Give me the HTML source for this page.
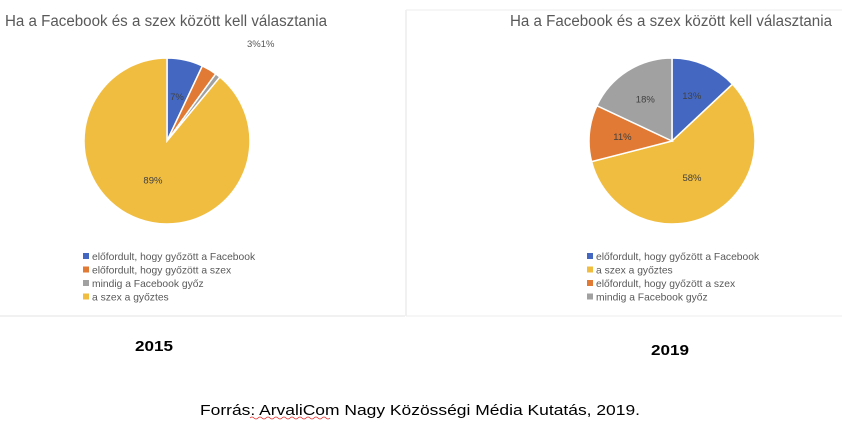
<!DOCTYPE html>
<html><head><meta charset="utf-8"><style>
html,body{margin:0;padding:0;background:#fff;width:842px;height:425px;overflow:hidden}
svg{display:block;font-family:"Liberation Sans",sans-serif}
</style></head><body>
<svg id="chart" width="842" height="425" viewBox="0 0 842 425">
  <line x1="0" y1="316" x2="405" y2="316" stroke="#e3e3e3" stroke-width="1"/>
  <line x1="406" y1="10" x2="406" y2="316" stroke="#e3e3e3" stroke-width="1"/>
  <line x1="406" y1="10" x2="842" y2="10" stroke="#eeeeee" stroke-width="1"/>
  <line x1="406" y1="316" x2="842" y2="316" stroke="#eeeeee" stroke-width="1"/>
  <text x="5" y="26" font-size="15.5" fill="#595959" textLength="322" lengthAdjust="spacingAndGlyphs">Ha a Facebook és a szex között kell választania</text>
  <text x="510" y="26" font-size="15.5" fill="#595959" textLength="322" lengthAdjust="spacingAndGlyphs">Ha a Facebook és a szex között kell választania</text>
  <g id="pie2015"></g>
  <g id="pie2019"></g>
  <g id="leg2015"></g>
  <g id="leg2019"></g>
  <text x="247" y="47" font-size="9.5" fill="#595959">3%1%</text>
  <text x="135" y="351" font-size="15" font-weight="bold" fill="#000" textLength="38" lengthAdjust="spacingAndGlyphs">2015</text>
  <text x="651" y="355" font-size="15" font-weight="bold" fill="#000" textLength="38" lengthAdjust="spacingAndGlyphs">2019</text>
  <text x="200" y="415" font-size="15" fill="#000" textLength="440" lengthAdjust="spacingAndGlyphs">Forrás: ArvaliCom Nagy Közösségi Média Kutatás, 2019.</text>
  <path d="M250 418 q2 -2 4 0 t4 0 t4 0 t4 0 t4 0 t4 0 t4 0 t4 0 t4 0 t4 0 t4 0 t4 0 t4 0 t4 0 t4 0 t4 0 t4 0 t4 0 t4 0 t4 0" fill="none" stroke="#e03030" stroke-width="0.8"/>
</svg>
<script>
const cats2015 = ["előfordult, hogy győzött a Facebook","előfordult, hogy győzött a szex","mindig a Facebook győz","a szex a győztes"];
const vals2015 = [7, 3, 1, 89];
const cats2019 = ["előfordult, hogy győzött a Facebook","a szex a győztes","előfordult, hogy győzött a szex","mindig a Facebook győz"];
const vals2019 = [13, 58, 11, 18];
const colorMap = {"előfordult, hogy győzött a Facebook":"#4468c2","előfordult, hogy győzött a szex":"#e07a35","mindig a Facebook győz":"#a1a1a1","a szex a győztes":"#f0bd41"};
const NS = "http://www.w3.org/2000/svg";
function drawPie(gid, cats, vals, cx, cy, r, showLabel, lblOffsets) {
  const g = document.getElementById(gid);
  const total = vals.reduce((a,b)=>a+b,0);
  let a0 = 0;
  vals.forEach((v,i)=>{
    const a1 = a0 + v/total*2*Math.PI;
    const x0 = cx + r*Math.sin(a0), y0 = cy - r*Math.cos(a0);
    const x1 = cx + r*Math.sin(a1), y1 = cy - r*Math.cos(a1);
    const large = (a1-a0) > Math.PI ? 1 : 0;
    const p = document.createElementNS(NS,"path");
    p.setAttribute("d",`M${cx} ${cy} L${x0} ${y0} A${r} ${r} 0 ${large} 1 ${x1} ${y1} Z`);
    p.setAttribute("fill",colorMap[cats[i]]);
    p.setAttribute("stroke","#fff");
    p.setAttribute("stroke-width","1.5");
    
    
    g.appendChild(p);
    if (showLabel[i]) {
      const am = (a0+a1)/2, rr = r*lblOffsets[i];
      const t = document.createElementNS(NS,"text");
      t.setAttribute("x", cx + rr*Math.sin(am));
      t.setAttribute("y", cy - rr*Math.cos(am) + 3.5);
      t.setAttribute("text-anchor","middle");
      t.setAttribute("font-size","9.5");
      t.setAttribute("fill","#404040");
      t.textContent = v + "%";
      
      
      g.appendChild(t);
    }
    a0 = a1;
  });
}
function drawLegend(gid, cats, x, y) {
  const g = document.getElementById(gid);
  cats.forEach((c,i)=>{
    const rect = document.createElementNS(NS,"rect");
    rect.setAttribute("x",x); rect.setAttribute("y",y+i*13.5-6);
    rect.setAttribute("width",6); rect.setAttribute("height",6);
    rect.setAttribute("fill",colorMap[c]);
    
    
    g.appendChild(rect);
    const t = document.createElementNS(NS,"text");
    t.setAttribute("x",x+9); t.setAttribute("y",y+i*13.5+1);
    t.setAttribute("font-size","10.3"); t.setAttribute("fill","#595959");
    t.textContent = c;
    
    
    g.appendChild(t);
  });
}
drawPie("pie2015", cats2015, vals2015, 167, 141, 83, [true,false,false,true], [0.55,0.6,0.6,0.5]);
drawPie("pie2019", cats2019, vals2019, 672, 141, 83, [true,true,true,true], [0.6,0.5,0.6,0.6]);
drawLegend("leg2015", cats2015, 83, 259);
drawLegend("leg2019", cats2019, 587, 259);
</script>
</body></html>
